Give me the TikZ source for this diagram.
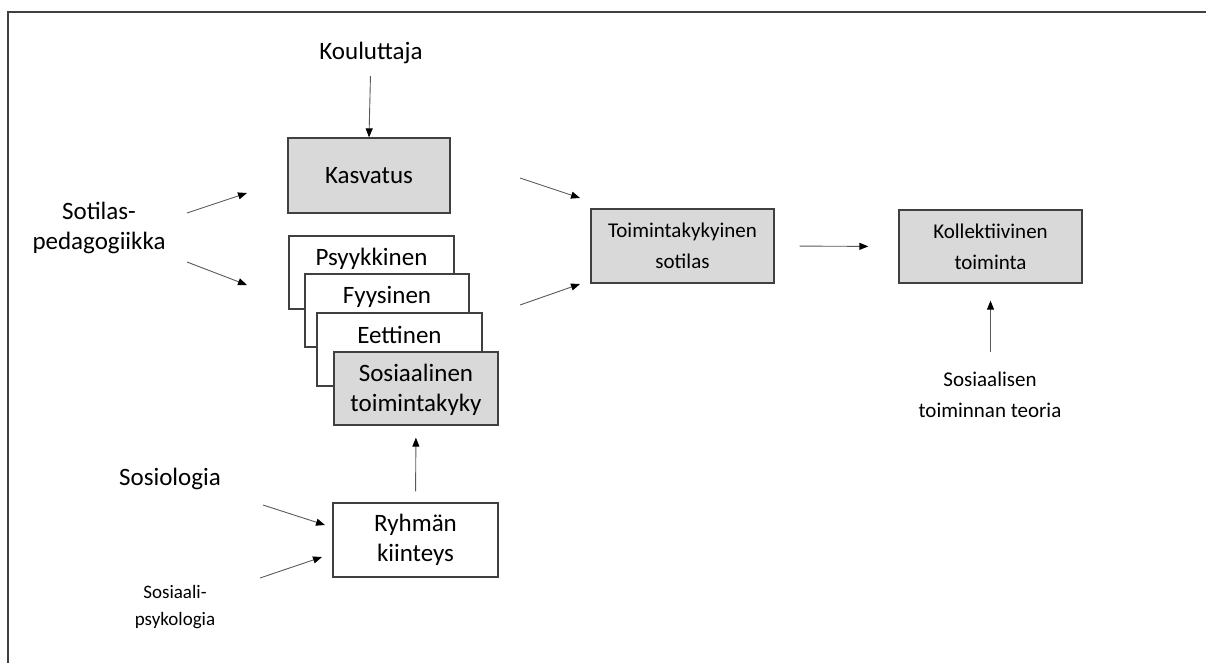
\documentclass[tikz,border=0pt]{standalone}
\usepackage{fontspec}
\setmainfont{Carlito}
\usetikzlibrary{arrows.meta}
\definecolor{boxgray}{HTML}{D9D9D9}
\definecolor{edgegray}{HTML}{404040}
\definecolor{arrowgray}{HTML}{595959}
\begin{document}
\begin{tikzpicture}[x=1pt,y=-1pt,
  bigtxt/.style={font=\fontsize{25}{30}\selectfont, align=center, inner sep=0pt},
  midtxt/.style={font=\fontsize{21}{31}\selectfont, align=center, inner sep=0pt},
  smalltxt/.style={font=\fontsize{19}{27}\selectfont, align=center, inner sep=0pt},
  graybox/.style={draw=edgegray, line width=1.3pt, fill=boxgray, inner sep=0pt},
  whitebox/.style={draw=edgegray, line width=1.3pt, fill=white, inner sep=0pt},
  conn/.style={draw=arrowgray, line width=0.9pt, -{Triangle[length=9pt,width=7pt,color=black,fill=black]}},
  frame/.style={draw=edgegray, line width=1.4pt}]
\useasboundingbox (0,0) rectangle (1206,662);
\draw[frame] (8,670) -- (8,12) -- (1215,12);

% text labels
\node[bigtxt] (kou) at (371,53) {Kouluttaja};
\node[bigtxt] (sot) at (99,228) {Sotilas-\\pedagogiikka};
\node[bigtxt] (soc) at (170,479) {Sosiologia};
\node[smalltxt] (spsy) at (175,607) {Sosiaali-\\psykologia};
\node[midtxt] (steo) at (990,395) {Sosiaalisen\\toiminnan teoria};

% boxes
\node[graybox, minimum width=162pt, minimum height=75pt] (kas) at (369,175.5) {};
\node[bigtxt] at (kas.center) {Kasvatus};

\node[whitebox, minimum width=165pt, minimum height=73pt] (psy) at (371.5,272.5) {};
\node[bigtxt] at (371.5,259) {Psyykkinen};
\node[whitebox, minimum width=164pt, minimum height=73pt] (fyy) at (387,310.5) {};
\node[bigtxt] at (387,297) {Fyysinen};
\node[whitebox, minimum width=165pt, minimum height=73pt] (eet) at (399.5,349.5) {};
\node[bigtxt] at (399.5,334.5) {Eettinen};
\node[graybox, minimum width=164pt, minimum height=73pt] (sos) at (416,388.5) {};
\node[bigtxt] at (416,389.5) {Sosiaalinen\\toimintakyky};

\node[graybox, minimum width=183pt, minimum height=74pt] (toim) at (682.5,246) {};
\node[midtxt] at (toim.center) {Toimintakykyinen\\sotilas};
\node[graybox, minimum width=183pt, minimum height=73pt] (koll) at (990.5,246.5) {};
\node[midtxt] at (koll.center) {Kollektiivinen\\toiminta};

\node[whitebox, minimum width=165pt, minimum height=74pt] (ryh) at (415.5,540) {};
\node[bigtxt] at (ryh.center) {Ryhmän\\kiinteys};

% free arrow ends
\coordinate (s1a) at (187,213); \coordinate (s1b) at (247,193);
\coordinate (s2a) at (187,262); \coordinate (s2b) at (247,285);
\coordinate (k1a) at (520,178); \coordinate (k1b) at (580,198);
\coordinate (k2a) at (520,305); \coordinate (k2b) at (580,284);
\coordinate (r1a) at (263,505); \coordinate (r1b) at (325,525);
\coordinate (r2a) at (260,578); \coordinate (r2b) at (322,557);

% connectors
\draw[conn, shorten <=12pt] (kou) -- (kas.north);
\draw[conn] (s1a) -- (s1b);
\draw[conn] (s2a) -- (s2b);
\draw[conn] (k1a) -- (k1b);
\draw[conn] (k2a) -- (k2b);
\draw[conn, shorten <=25pt, shorten >=30pt] (toim.east) -- (koll.west);
\draw[conn, shorten <=20pt, shorten >=17pt] (steo.north -| koll.south) -- (koll.south);
\draw[conn] (r1a) -- (r1b);
\draw[conn] (r2a) -- (r2b);
\draw[conn, shorten <=11pt, shorten >=12pt] (ryh.north) -- (sos.south);
\end{tikzpicture}
\end{document}
